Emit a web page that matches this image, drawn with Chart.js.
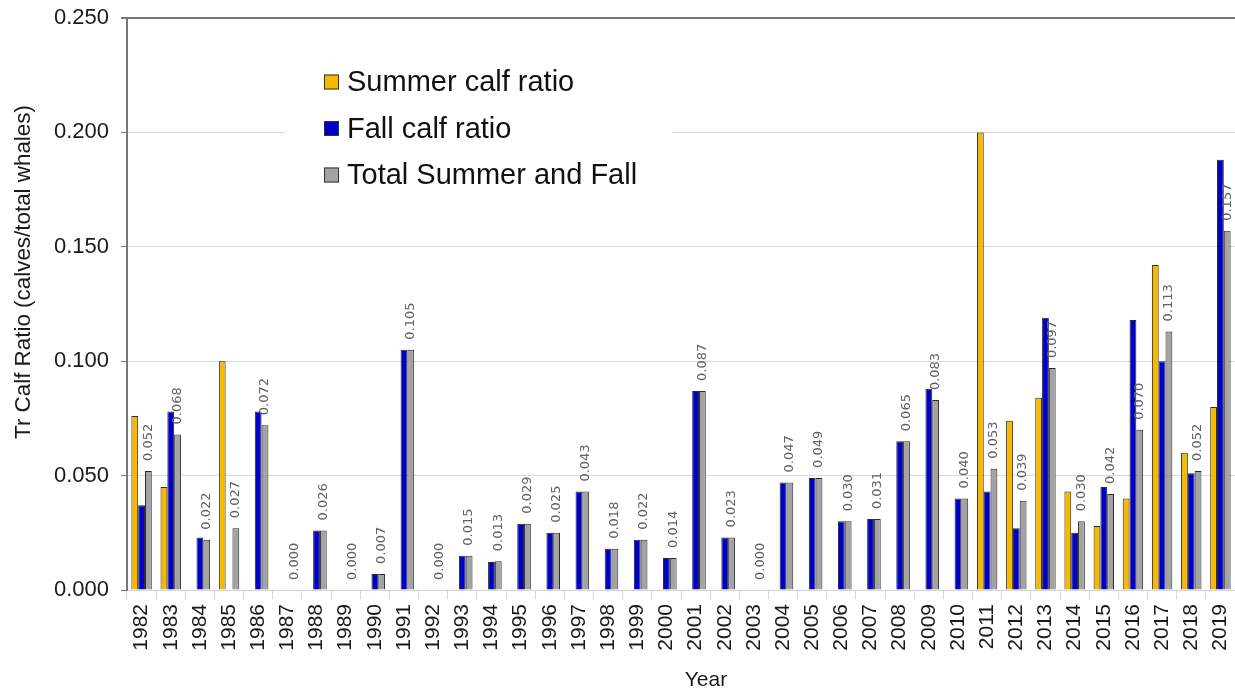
<!DOCTYPE html>
<html>
<head>
<meta charset="utf-8">
<script src="https://cdn.jsdelivr.net/npm/chart.js@4/dist/chart.umd.min.js"></script>
<style>
  html, body { margin: 0; padding: 0; background: #fff; }
  #wrap { width: 1235px; height: 694px; }
</style>
</head>
<body>
<div id="wrap"><canvas id="c" width="1235" height="694"></canvas></div>
<script>
const years = ["1982","1983","1984","1985","1986","1987","1988","1989","1990","1991","1992","1993","1994","1995","1996","1997","1998","1999","2000","2001","2002","2003","2004","2005","2006","2007","2008","2009","2010","2011","2012","2013","2014","2015","2016","2017","2018","2019"];
const summerRatio = [0.076,0.045,null,0.100,null,null,null,null,null,null,null,null,null,null,null,null,null,null,null,null,null,null,null,null,null,null,null,null,null,0.200,0.074,0.084,0.043,0.028,0.040,0.142,0.060,0.080];
const fallRatio = [0.037,0.078,0.023,null,0.078,0,0.026,0,0.007,0.105,0,0.015,0.0122,0.029,0.025,0.043,0.018,0.022,0.014,0.087,0.023,0,0.047,0.049,0.030,0.031,0.065,0.088,0.040,0.043,0.027,0.119,0.025,0.045,0.118,0.100,0.051,0.188];
const totalRatio = [0.052,0.068,0.022,0.027,0.072,0,0.026,0,0.007,0.105,0,0.015,0.0126,0.029,0.025,0.043,0.018,0.022,0.014,0.087,0.023,0,0.047,0.049,0.030,0.031,0.065,0.083,0.040,0.053,0.039,0.097,0.030,0.042,0.070,0.113,0.052,0.157];
const yTicks = [0, 0.05, 0.10, 0.15, 0.20, 0.25];
const yTitle = 'Tr Calf Ratio (calves/total whales)';
const xTitle = 'Year';

const SANS = "Arial, 'Liberation Sans', sans-serif";

const totalLabels = {
  id: 'totalLabels',
  afterDatasetsDraw(chart) {
    const ctx = chart.ctx;
    const meta = chart.getDatasetMeta(2);
    const data = chart.data.datasets[2].data;
    ctx.save();
    ctx.font = "13px 'DejaVu Sans'";
    ctx.fillStyle = '#626262';
    ctx.textAlign = 'left';
    ctx.textBaseline = 'middle';
    meta.data.forEach((el, i) => {
      const v = data[i];
      if (v === null || v === undefined) return;
      ctx.save();
      ctx.translate(el.x, el.y - 10);
      ctx.rotate(-Math.PI / 2);
      ctx.fillText(v.toFixed(3), 0, 0);
      ctx.restore();
    });
    ctx.restore();
  }
};

const axisTitles = {
  id: 'axisTitles',
  afterDraw(chart) {
    const ctx = chart.ctx;
    ctx.save();
    ctx.fillStyle = '#1a1a1a';
    ctx.textAlign = 'center';
    ctx.textBaseline = 'middle';
    ctx.font = "21px " + SANS;
    ctx.fillText(xTitle, 706, 680);
    ctx.font = "22.4px " + SANS;
    ctx.translate(24, 272);
    ctx.rotate(-Math.PI / 2);
    ctx.fillText(yTitle, 0, 0);
    ctx.restore();
  }
};

const insideLegend = {
  id: 'insideLegend',
  afterDraw(chart) {
    const ctx = chart.ctx;
    const ca = chart.chartArea;
    const x0 = ca.left + 158, y0 = ca.top + 40;
    ctx.save();
    ctx.fillStyle = '#ffffff';
    ctx.fillRect(x0, y0, 387, 145);
    ctx.font = "29px " + SANS;
    ctx.textBaseline = 'middle';
    ctx.textAlign = 'left';
    chart.data.datasets.forEach((ds, i) => {
      const cy = ca.top + 64 + i * 46.5;
      const bx = x0 + 39;
      ctx.fillStyle = ds.backgroundColor;
      ctx.fillRect(bx, cy - 7.5, 15, 15);
      ctx.strokeStyle = '#333';
      ctx.lineWidth = 1;
      ctx.strokeRect(bx + 0.5, cy - 7, 14, 14);
      ctx.fillStyle = '#111';
      ctx.fillText(ds.label, bx + 23, cy + 1);
    });
    ctx.restore();
  }
};

const bw = c => (c.raw ? 1 : 0);

new Chart(document.getElementById('c'), {
  type: 'bar',
  data: {
    labels: years,
    datasets: [
      { label: 'Summer calf ratio', data: summerRatio, backgroundColor: '#F7B800', borderColor: '#2a2a2a', borderWidth: bw, borderSkipped: 'bottom' },
      { label: 'Fall calf ratio', data: fallRatio, backgroundColor: '#0000C8', borderColor: '#2a2a2a', borderWidth: bw, borderSkipped: 'bottom' },
      { label: 'Total Summer and Fall', data: totalRatio, backgroundColor: '#A3A3A3', borderColor: '#2a2a2a', borderWidth: bw, borderSkipped: 'bottom' }
    ]
  },
  options: {
    responsive: false,
    animation: false,
    layout: { padding: { top: 18, left: 0, right: 0, bottom: 0 } },
    datasets: { bar: { categoryPercentage: 0.7, barPercentage: 1.0 } },
    plugins: { legend: { display: false }, tooltip: { enabled: false } },
    scales: {
      x: {
        offset: true,
        grid: { offset: true, drawOnChartArea: false, color: '#d4d4d4', tickLength: 9 },
        border: { color: '#d4d4d4', width: 1 },
        ticks: { minRotation: 90, maxRotation: 90, autoSkip: false, padding: 5, color: '#1a1a1a', font: { size: 21, family: SANS } },
        title: { display: false },
        afterFit(s) { s.height = 104; s.paddingLeft = 0; s.paddingRight = 0; }
      },
      y: {
        min: 0, max: 0.25,
        afterBuildTicks(s) { s.ticks = yTicks.map(v => ({ value: v })); },
        grid: {
          color: c => (c.tick && c.tick.value >= 0.25 ? '#777777' : '#d9d9d9'),
          lineWidth: c => (c.tick && c.tick.value >= 0.25 ? 2 : 1),
          tickColor: '#777777', tickLength: 6
        },
        border: { color: '#777777', width: 2 },
        ticks: { padding: 12, color: '#1a1a1a', font: { size: 22, family: SANS }, callback: v => Number(v).toFixed(3) },
        title: { display: false },
        afterFit(s) { s.width = 127; s.paddingTop = 0; s.paddingBottom = 0; }
      }
    }
  },
  plugins: [totalLabels, insideLegend, axisTitles]
});
</script>
</body>
</html>
